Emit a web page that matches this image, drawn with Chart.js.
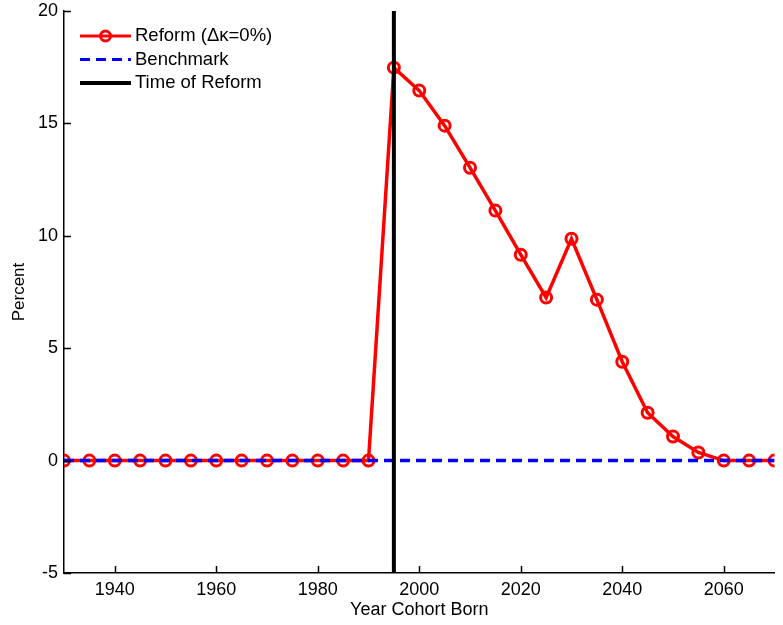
<!DOCTYPE html>
<html>
<head>
<meta charset="utf-8">
<script src="https://cdn.jsdelivr.net/npm/chart.js@4"></script>
<style>
  html, body { margin: 0; padding: 0; background: #fff; }
  #wrap { width: 783px; height: 625px; }
</style>
</head>
<body>
<div id="wrap"><canvas id="cohortChart" width="783" height="625"></canvas></div>
<script>
// cohort birth years and reform effect (percent)
const years = [1930, 1935, 1940, 1945, 1950, 1955, 1960, 1965, 1970, 1975, 1980, 1985, 1990,
               1995, 2000, 2005, 2010, 2015, 2020, 2025, 2030, 2035, 2040, 2045, 2050, 2055, 2060, 2065, 2070];
const reform = [0, 0, 0, 0, 0, 0, 0, 0, 0, 0, 0, 0, 0,
                17.48, 16.46, 14.9, 13.03, 11.12, 9.16, 7.25, 9.87, 7.16, 4.4, 2.13, 1.07, 0.36, 0, 0, 0];
const benchmark = [0, 0];
const benchmarkYears = [1930, 2070];
const reformYear = 1995;
const xTicks = [1940, 1960, 1980, 2000, 2020, 2040, 2060];
const yTicks = [-5, 0, 5, 10, 15, 20];

const font = "'Liberation Sans', Arial, sans-serif";

// MATLAB style inward ticks + legend without box
const matlabBits = {
    id: 'matlabBits',
    afterDraw(chart) {
        const ctx = chart.ctx;
        const x = chart.scales.x, y = chart.scales.y;
        const area = chart.chartArea;
        ctx.save();
        ctx.strokeStyle = '#000';
        ctx.lineWidth = 1.5;
        ctx.beginPath();
        xTicks.forEach(v => {
            const px = Math.round(x.getPixelForValue(v)) + 0.5;
            ctx.moveTo(px, area.bottom);
            ctx.lineTo(px, area.bottom - 7);
        });
        yTicks.forEach(v => {
            const py = Math.round(y.getPixelForValue(v)) + 0.5;
            ctx.moveTo(area.left, py);
            ctx.lineTo(area.left + 7, py);
        });
        ctx.stroke();

        // legend
        const items = [
            { label: 'Reform (\u0394\u03ba=0%)', color: '#ff0000', width: 3, dash: [], marker: true },
            { label: 'Benchmark', color: '#0000ff', width: 3, dash: [10, 6], marker: false },
            { label: 'Time of Reform', color: '#000000', width: 4, dash: [], marker: false }
        ];
        ctx.font = '18.5px ' + font;
        ctx.textBaseline = 'middle';
        items.forEach((it, i) => {
            const ly = 36 + i * 23.5;
            ctx.strokeStyle = it.color;
            ctx.lineWidth = it.width;
            ctx.setLineDash(it.dash);
            ctx.beginPath();
            ctx.moveTo(80, ly);
            ctx.lineTo(131, ly);
            ctx.stroke();
            ctx.setLineDash([]);
            if (it.marker) {
                ctx.lineWidth = 3;
                ctx.beginPath();
                ctx.arc(105.5, ly, 5, 0, Math.PI * 2);
                ctx.stroke();
            }
            ctx.fillStyle = '#000';
            ctx.fillText(it.label, 135, ly);
        });
        ctx.restore();
    }
};

const ctx = document.getElementById('cohortChart').getContext('2d');
new Chart(ctx, {
    type: 'line',
    data: {
        datasets: [
            {
                label: 'Time of Reform',
                data: [{ x: reformYear, y: -5 }, { x: reformYear, y: 20 }],
                borderColor: '#000000',
                borderWidth: 4,
                pointRadius: 0
            },
            {
                label: 'Benchmark',
                data: benchmarkYears.map((yr, i) => ({ x: yr, y: benchmark[i] })),
                borderColor: '#0000ff',
                borderWidth: 3.5,
                borderDash: [10, 6],
                pointRadius: 0
            },
            {
                label: 'Reform (\u0394\u03ba=0%)',
                data: years.map((yr, i) => ({ x: yr, y: reform[i] })),
                borderColor: '#ff0000',
                borderWidth: 3.5,
                pointRadius: 5.5,
                pointBorderWidth: 3,
                pointBorderColor: '#ff0000',
                pointBackgroundColor: 'rgba(0,0,0,0)',
                tension: 0
            }
        ]
    },
    options: {
        responsive: false,
        animation: false,
        layout: { padding: { top: 11, right: 7, left: 0, bottom: 0 } },
        plugins: { legend: { display: false }, tooltip: { enabled: false } },
        scales: {
            x: {
                type: 'linear',
                min: 1930,
                max: 2070,
                afterBuildTicks: s => { s.ticks = xTicks.map(v => ({ value: v })); },
                afterFit: s => { s.height = 52; s.paddingLeft = 0; s.paddingRight = 0; },
                grid: { display: false, drawTicks: false, tickLength: 0 },
                border: { display: true, color: '#000', width: 1.5 },
                ticks: { color: '#000', font: { family: font, size: 18 }, padding: 6,
                         maxRotation: 0, autoSkip: false, callback: v => String(v) },
                title: { display: true, text: 'Year Cohort Born', color: '#000',
                         font: { family: font, size: 18 }, padding: { top: 0, bottom: 4 } }
            },
            y: {
                min: -5,
                max: 20,
                afterBuildTicks: s => { s.ticks = yTicks.map(v => ({ value: v })); },
                afterFit: s => { s.width = 64; s.paddingTop = 0; s.paddingBottom = 0; },
                grid: { display: false, drawTicks: false, tickLength: 0 },
                border: { display: true, color: '#000', width: 1.5 },
                ticks: { color: '#000', font: { family: font, size: 18 }, padding: 6,
                         callback: v => String(v) },
                title: { display: true, text: 'Percent', color: '#000',
                         font: { family: font, size: 17 }, padding: { top: 9, bottom: 0 } }
            }
        }
    },
    plugins: [matlabBits]
});
</script>
</body>
</html>
